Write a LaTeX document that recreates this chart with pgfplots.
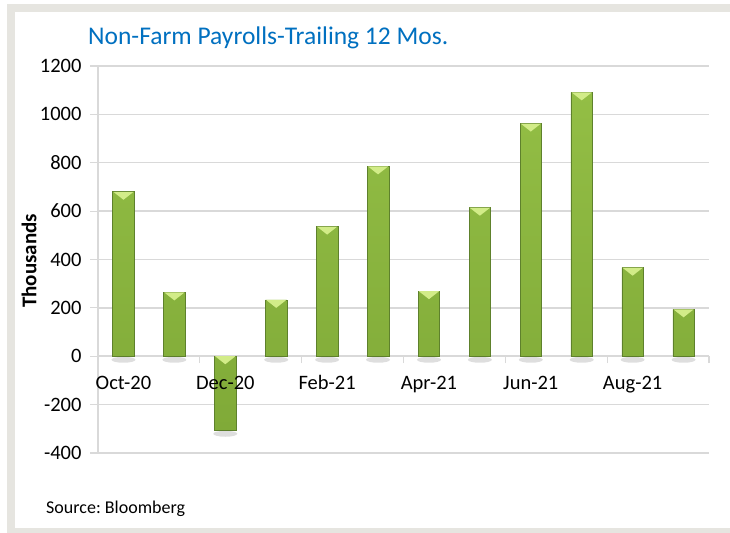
\documentclass[border=0pt]{standalone}
\usepackage{pgfplots}
\pgfplotsset{compat=1.18}
\usepackage{fontspec}
\setmainfont{Carlito}
\definecolor{framegray}{HTML}{E6E5E0}
\definecolor{gridgray}{HTML}{D9D9D9}
\definecolor{titleblue}{HTML}{0070C0}
\definecolor{barleft}{HTML}{93BE45}
\definecolor{barmid}{HTML}{B3DA66}
\definecolor{barright}{HTML}{80AA38}
\definecolor{barline}{HTML}{5E812C}
\definecolor{bevel}{HTML}{D2EC88}
\pgfdeclareplotmark{bevel}{%
  \pgfpathmoveto{\pgfqpoint{-10.2bp}{0bp}}%
  \pgfpathlineto{\pgfqpoint{10.2bp}{0bp}}%
  \pgfpathlineto{\pgfqpoint{0bp}{-8bp}}%
  \pgfpathclose
  \pgfusepathqfill}
\pgfdeclareplotmark{shadow}{%
  \pgfpathellipse{\pgfqpoint{0bp}{-3.5bp}}{\pgfqpoint{12bp}{0bp}}{\pgfqpoint{0bp}{3bp}}%
  \pgfusepathqfill}
\pgfplotsset{
  common/.style={
    at={(98bp,80bp)}, anchor=south west,
    scale only axis, width=611bp, height=387bp,
    xmin=-0.5, xmax=11.5, ymin=-400, ymax=1200,
    /pgf/number format/assume math mode=true,
    /pgf/number format/1000 sep={},
    tick label style={font=\fontsize{20.5bp}{24bp}\selectfont, black},
    xticklabel style={yshift=-8bp},
    yticklabel style={xshift=-5bp},
    clip=false,
  }
}
\begin{document}
\begin{tikzpicture}[x=1bp,y=1bp]
\fill[white] (0,0) rectangle (730,533);
\fill[framegray] (7,0) rectangle (730,529);
\fill[white] (15,5) rectangle (730,521);
\begin{axis}[
  common,
  axis x line=middle, axis y line=left,
  axis line style={-, draw=gridgray, line width=1.2bp},
  xtick={0,2,4,6,8,10},
  xticklabels={},
  major x tick style={draw=none},
  minor xtick={1.5,3.5,5.5,7.5,9.5,11.5},
  minor x tick style={draw=gridgray, line width=1.2bp},
  minor tick length=7bp,
  ytick={-400,-200,0,200,400,600,800,1000,1200},
  ytick style={draw=gridgray, line width=1.2bp},
  major tick length=8bp,
  tick align=outside,
  ymajorgrids, major grid style={draw=gridgray, line width=1.5bp},
]
\addplot[only marks, mark=shadow, mark options={fill=black, fill opacity=0.13, draw=none}]
  coordinates {(0,0)(1,0)(2,-306)(3,0)(4,0)(5,0)(6,0)(7,0)(8,0)(9,0)(10,0)(11,0)};
\addplot[ybar, bar width=21.5bp, draw=barline, line width=0.6bp,
  left color=barleft, middle color=barmid, right color=barright, shading angle=0]
  coordinates {(0,680)(1,264)(2,-306)(3,233)(4,536)(5,785)(6,269)(7,614)(8,962)(9,1091)(10,366)(11,194)};
\addplot[only marks, mark=bevel, mark options={fill=bevel, draw=none}]
  coordinates {(0,680)(1,264)(2,0)(3,233)(4,536)(5,785)(6,269)(7,614)(8,962)(9,1091)(10,366)(11,194)};
\end{axis}
\begin{axis}[
  common,
  axis x line=middle, hide y axis,
  x axis line style={draw=none},
  xtick={0,2,4,6,8,10},
  xticklabels={Oct-20,Dec-20,Feb-21,Apr-21,Jun-21,Aug-21},
  xtick style={draw=none},
  major tick length=8bp,
  tick align=outside,
]
\end{axis}
\node[anchor=west, text=titleblue, font=\fontsize{25.5bp}{30bp}\selectfont, inner sep=0pt] at (88,495) {Non-Farm Payrolls-Trailing 12 Mos.};
\node[rotate=90, font=\fontsize{21bp}{25bp}\selectfont\bfseries, inner sep=0pt] at (29,272) {Thousands};
\node[anchor=west, font=\fontsize{18bp}{22bp}\selectfont, inner sep=0pt] at (46,24) {Source:\ Bloomberg};
\pgfresetboundingbox
\path[use as bounding box] (0,0) rectangle (730,533);
\end{tikzpicture}
\end{document}
